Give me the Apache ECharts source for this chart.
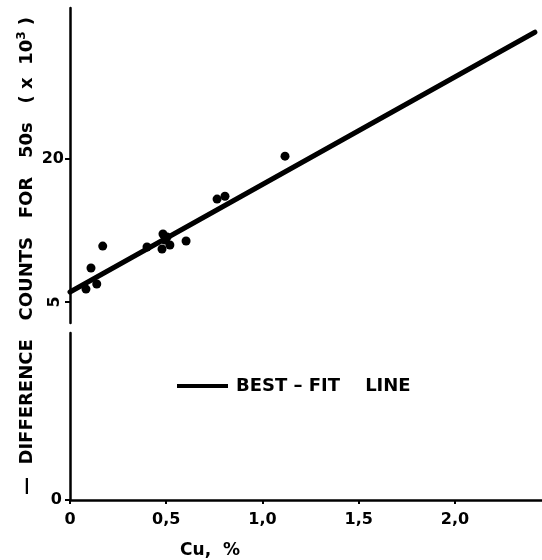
<!DOCTYPE html>
<html>
<head>
<meta charset="utf-8">
<script src="https://cdn.jsdelivr.net/npm/echarts@6/dist/echarts.min.js"></script>
<style>
  html, body { margin: 0; padding: 0; background: #fff; }
  #chart { width: 542px; height: 560px; }
</style>
</head>
<body>
<div id="chart"></div>
<script>
// Copper content of each sample, %
const cuPercent = [0.083, 0.109, 0.139, 0.170, 0.400, 0.478, 0.483, 0.494, 0.504, 0.519, 0.603, 0.764, 0.805, 1.117];
// Difference counts for 50 s (x 10^3) of each sample
const diffCounts = [6.36, 8.57, 6.89, 10.87, 10.77, 10.56, 12.13, 11.50, 11.82, 10.98, 11.40, 15.8, 16.1, 20.3];
// Best-fit line end points
const fitCu = [0, 2.415];
const fitCounts = [6.05, 33.3];
// Axis ticks and labels
const xTicks = [0, 0.5, 1.0, 1.5, 2.0];
const xTickLabels = ['0', '0,5', '1,0', '1,5', '2,0'];
const yTicksUpper = [20];
const yTicksUpperRotated = [5];
const yTicksLower = [0];

const FONT = 'DejaVu Sans';
const INK = '#000';
const FIT_NAME = 'BEST – FIT    LINE';

const scatterData = cuPercent.map((c, i) => [c, diffCounts[i]]);
const fitData = fitCu.map((c, i) => [c, fitCounts[i]]);

const xRange = { min: 0, max: 2.452 };
const upperRange = { min: 2.8, max: 35.84 };

const axisLineStyle = { show: true, lineStyle: { color: INK, width: 2.5 } };
const tickStyle = { color: INK, width: 2 };
const labelStyle = { color: INK, fontFamily: FONT, fontWeight: 'bold', fontSize: 16 };

const chart = echarts.init(document.getElementById('chart'), null, { renderer: 'canvas' });

chart.setOption({
  backgroundColor: '#fff',
  animation: false,
  grid: [
    { left: 70, right: 0, top: 8, height: 315 },
    { left: 70, right: 0, top: 333, height: 167 }
  ],
  xAxis: [
    {
      gridIndex: 0, type: 'value', ...xRange,
      axisLine: { show: false }, axisTick: { show: false },
      axisLabel: { show: false }, splitLine: { show: false }
    },
    {
      gridIndex: 1, type: 'value', ...xRange,
      axisLine: { ...axisLineStyle, onZero: false },
      axisTick: { show: true, customValues: xTicks, length: 4, lineStyle: tickStyle },
      axisLabel: {
        ...labelStyle, margin: 12, customValues: xTicks,
        formatter: v => xTickLabels[xTicks.indexOf(v)] ?? ''
      },
      splitLine: { show: false }
    }
  ],
  yAxis: [
    {
      gridIndex: 0, type: 'value', position: 'left', ...upperRange,
      axisLine: axisLineStyle,
      axisTick: { show: true, customValues: yTicksUpper, length: 5, lineStyle: tickStyle },
      axisLabel: { ...labelStyle, margin: 6, customValues: yTicksUpper },
      splitLine: { show: false }
    },
    {
      gridIndex: 1, type: 'value', position: 'left', min: 0, max: 1,
      axisLine: axisLineStyle,
      axisTick: { show: true, customValues: yTicksLower, length: 5, lineStyle: tickStyle },
      axisLabel: { ...labelStyle, margin: 8, customValues: yTicksLower },
      splitLine: { show: false }
    },
    {
      gridIndex: 0, type: 'value', position: 'left', offset: 0, ...upperRange,
      axisLine: { show: false },
      axisTick: { show: true, customValues: yTicksUpperRotated, length: 5, lineStyle: tickStyle },
      axisLabel: { ...labelStyle, margin: 7, rotate: 90, customValues: yTicksUpperRotated },
      splitLine: { show: false }
    }
  ],
  legend: {
    data: [{ name: FIT_NAME, icon: 'rect' }],
    left: 177, top: 377, padding: 0,
    itemWidth: 51, itemHeight: 4, itemGap: 10,
    textStyle: { ...labelStyle, fontSize: 18, padding: [0, 0, 0, 3] }
  },
  series: [
    {
      name: 'samples', type: 'scatter', xAxisIndex: 0, yAxisIndex: 0,
      data: scatterData, symbol: 'circle', symbolSize: 9,
      itemStyle: { color: INK, opacity: 1 }
    },
    {
      name: FIT_NAME, type: 'line', xAxisIndex: 0, yAxisIndex: 0,
      data: fitData, showSymbol: false, symbol: 'none',
      lineStyle: { color: INK, width: 5, cap: 'round' },
      itemStyle: { color: INK }
    }
  ],
  graphic: [
    {
      type: 'text', x: 27, y: 256, rotation: Math.PI / 2,
      style: {
        text: '{t|—  DIFFERENCE   COUNTS   FOR   50s   ( x  10}{s|3}{t| )}',
        align: 'center', verticalAlign: 'middle',
        rich: {
          t: { fontFamily: FONT, fontWeight: 'bold', fontSize: 18, fill: INK },
          s: { fontFamily: FONT, fontWeight: 'bold', fontSize: 12, fill: INK, verticalAlign: 'top', padding: [0, 0, 10, 0] }
        }
      }
    },
    {
      type: 'text', x: 210, y: 551,
      style: {
        text: 'Cu,  %', fill: INK, align: 'center', verticalAlign: 'middle',
        fontFamily: FONT, fontWeight: 'bold', fontSize: 17
      }
    }
  ]
});
</script>
</body>
</html>
